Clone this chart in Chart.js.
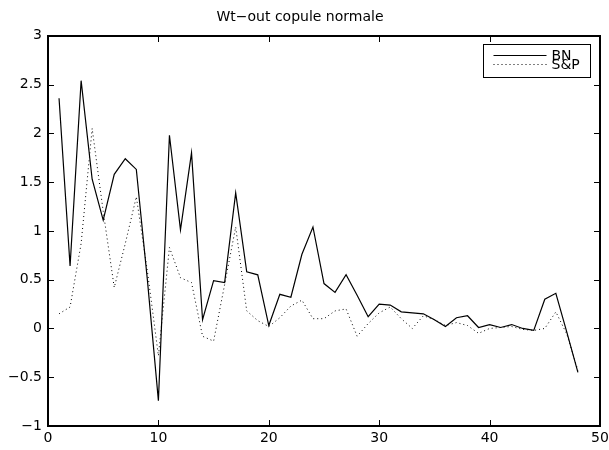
<!DOCTYPE html>
<html>
<head>
<meta charset="utf-8">
<title>Wt-out copule normale</title>
<script src="https://cdn.jsdelivr.net/npm/chart.js@4.4.1/dist/chart.umd.min.js"></script>
<style>
	html, body { margin: 0; padding: 0; background: #fff; }
	#wrap { width: 609px; height: 450px; position: relative; }
</style>
</head>
<body>
<div id="wrap"><canvas id="chart"></canvas></div>
<script>
var obs = [1, 2, 3, 4, 5, 6, 7, 8, 9, 10, 11, 12, 13, 14, 15, 16, 17, 18, 19, 20, 21, 22, 23, 24,
	25, 26, 27, 28, 29, 30, 31, 32, 33, 34, 35, 36, 37, 38, 39, 40, 41, 42, 43, 44, 45, 46, 47, 48];
var bn = [2.36, 0.64, 2.54, 1.53, 1.11, 1.58, 1.74, 1.63, 0.50, -0.74, 1.98, 1.01, 1.80, 0.09, 0.49, 0.47,
	1.39, 0.58, 0.55, 0.03, 0.35, 0.32, 0.76, 1.04, 0.46, 0.37, 0.55, 0.34, 0.12, 0.25, 0.24, 0.17,
	0.16, 0.15, 0.09, 0.02, 0.11, 0.13, 0.01, 0.04, 0.01, 0.04, 0.00, -0.02, 0.30, 0.36, -0.04, -0.45];
var sp = [0.15, 0.22, 0.87, 2.05, 1.20, 0.42, 0.87, 1.35, 0.59, -0.28, 0.83, 0.52, 0.47, -0.08, -0.13, 0.45,
	1.04, 0.18, 0.08, 0.02, 0.11, 0.23, 0.29, 0.10, 0.10, 0.18, 0.20, -0.08, 0.05, 0.16, 0.22, 0.10,
	0.00, 0.13, 0.09, 0.03, 0.06, 0.03, -0.05, 0.00, 0.01, 0.02, -0.01, -0.02, 0.00, 0.17, -0.06, -0.43];
var seriesNames = ['BN', 'S&P'];
var xTicks = [0, 10, 20, 30, 40, 50];
var yTicks = [-1, -0.5, 0, 0.5, 1, 1.5, 2, 2.5, 3];

(function () {
	'use strict';

	var FONT = '"DejaVu Sans", Verdana, sans-serif';

	function points(ys) {
		return obs.map(function (x, i) {
			return { x: x, y: ys[i] };
		});
	}

	function tickText(v) {
		return String(v).replace('-', '\u2212');
	}

	// matlab look: box all round, inward ticks on all four sides, boxed legend top right
	var matlabAxes = {
		id: 'matlabAxes',
		afterDraw: function (chart) {
			var c = chart.ctx,
				a = chart.chartArea,
				xs = chart.scales.x,
				ys = chart.scales.y,
				len = 5;
			var L = Math.round(a.left),
				R = Math.round(a.right),
				T = Math.round(a.top),
				B = Math.round(a.bottom);

			c.save();
			c.fillStyle = '#000';
			// frame, 2px like the original
			c.fillRect(L - 1, T - 1, R - L + 2, 2);
			c.fillRect(L - 1, B - 1, R - L + 2, 2);
			c.fillRect(L - 1, T - 1, 2, B - T + 2);
			c.fillRect(R - 1, T - 1, 2, B - T + 2);
			xTicks.forEach(function (v) {
				var px = Math.round(xs.getPixelForValue(v));
				c.fillRect(px, B - 1 - len, 1, len);
				c.fillRect(px, T + 1, 1, len);
			});
			yTicks.forEach(function (v) {
				var py = Math.round(ys.getPixelForValue(v));
				c.fillRect(L + 1, py, len, 1);
				c.fillRect(R - 1 - len, py, len, 1);
			});

			// legend
			var w = 107, h = 33,
				x0 = Math.round(a.right - 117) + 0.5,
				y0 = Math.round(a.top + 8) + 0.5;
			c.fillStyle = '#fff';
			c.fillRect(x0, y0, w, h);
			c.strokeStyle = '#000';
			c.lineWidth = 1;
			c.strokeRect(x0, y0, w, h);
			c.font = '14px ' + FONT;
			c.textBaseline = 'middle';
			c.fillStyle = '#000';
			chart.data.datasets.forEach(function (ds, i) {
				var ly = Math.round(y0 + 10 + i * 9.5) + 0.5;
				c.beginPath();
				c.setLineDash(ds.borderDash || []);
				c.moveTo(x0 + 10, ly);
				c.lineTo(x0 + 63, ly);
				c.stroke();
				c.setLineDash([]);
				c.fillText(seriesNames[i], x0 + 68, ly + 1);
			});
			c.restore();
		}
	};

	new Chart(document.getElementById('chart'), {
		type: 'line',
		data: {
			datasets: [{
				label: seriesNames[0],
				data: points(bn),
				borderColor: '#000',
				borderWidth: 1.2,
				pointRadius: 0,
				tension: 0
			}, {
				label: seriesNames[1],
				data: points(sp),
				borderColor: '#000',
				borderWidth: 1,
				borderDash: [1, 3],
				pointRadius: 0,
				tension: 0
			}]
		},
		options: {
			responsive: true,
			maintainAspectRatio: false,
			animation: false,
			layout: { padding: { left: 0, right: 9, top: 0, bottom: 0 } },
			plugins: {
				legend: { display: false },
				tooltip: { enabled: false },
				title: {
					display: true,
					text: 'Wt\u2212out copule normale',
					color: '#000',
					font: { family: FONT, size: 14, weight: 'normal' },
					padding: { top: 9, bottom: 10 }
				}
			},
			scales: {
				x: {
					type: 'linear',
					min: 0,
					max: 50,
					afterBuildTicks: function (scale) {
						scale.ticks = xTicks.map(function (v) { return { value: v }; });
					},
					afterFit: function (scale) {
						scale.height = 24;
						scale.paddingLeft = 0;
						scale.paddingRight = 0;
					},
					grid: { display: false, drawTicks: false },
					border: { display: false },
					ticks: {
						color: '#000',
						padding: 4,
						maxRotation: 0,
						font: { family: FONT, size: 14 },
						callback: tickText
					}
				},
				y: {
					min: -1,
					max: 3,
					afterBuildTicks: function (scale) {
						scale.ticks = yTicks.map(function (v) { return { value: v }; });
					},
					afterFit: function (scale) {
						scale.width = 48;
						scale.paddingTop = 0;
						scale.paddingBottom = 0;
					},
					grid: { display: false, drawTicks: false },
					border: { display: false },
					ticks: {
						color: '#000',
						padding: 6,
						font: { family: FONT, size: 14 },
						callback: tickText
					}
				}
			}
		},
		plugins: [matlabAxes]
	});
})();
</script>
</body>
</html>
